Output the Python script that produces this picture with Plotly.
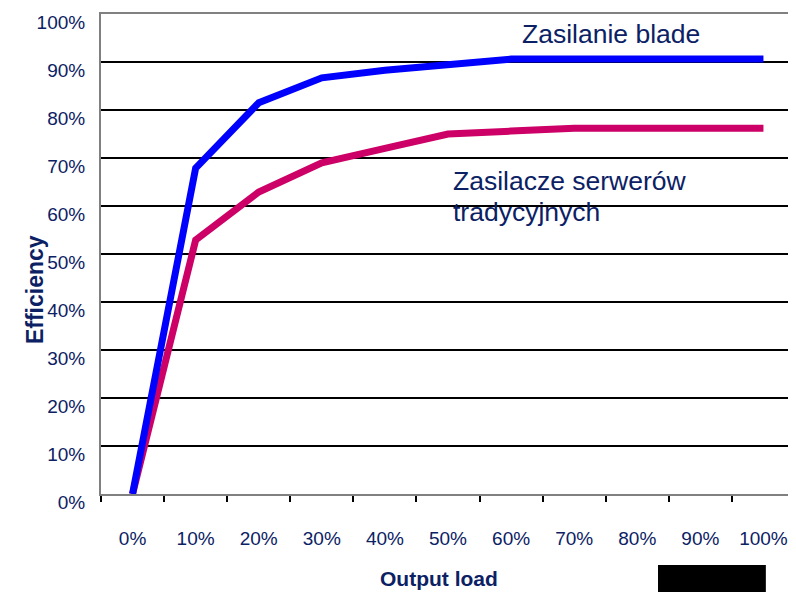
import plotly.graph_objects as go

loads = ["0%", "10%", "20%", "30%", "40%", "50%", "60%", "70%", "80%", "90%", "100%"]
blade = [0.0, 0.679, 0.815, 0.867, 0.883, 0.894, 0.906, 0.906, 0.906, 0.906, 0.906]
traditional = [0.0, 0.529, 0.629, 0.69, 0.72, 0.75, 0.756, 0.762, 0.762, 0.762, 0.762]
eff_ticks = [0.0, 0.1, 0.2, 0.3, 0.4, 0.5, 0.6, 0.7, 0.8, 0.9, 1.0]
eff_labels = ["0%", "10%", "20%", "30%", "40%", "50%", "60%", "70%", "80%", "90%", "100%"]

NAVY = "#0b2164"
FONT = "Liberation Sans, Arial, sans-serif"

fig = go.Figure()
fig.add_trace(go.Scatter(x=loads, y=traditional, mode="lines",
                         line=dict(color="#cc0066", width=7), showlegend=False))
fig.add_trace(go.Scatter(x=loads, y=blade, mode="lines",
                         line=dict(color="#0000ff", width=7), showlegend=False))

fig.update_layout(
    width=788, height=584,
    margin=dict(l=93, r=1, t=6, b=98),
    paper_bgcolor="white", plot_bgcolor="white",
    font=dict(family=FONT, color=NAVY, size=19),
    xaxis=dict(
        type="category", tickson="boundaries", range=[-0.5, 10.5], automargin=False,
        showline=True, linecolor="#808080", linewidth=2, mirror=True,
        ticks="outside", ticklen=6, tickwidth=2, tickcolor="black",
        showgrid=False, ticklabelstandoff=26,
        tickfont=dict(size=19, color=NAVY),
    ),
    yaxis=dict(
        range=[0, 1], tickmode="array", tickvals=eff_ticks, ticktext=eff_labels,
        automargin=False, ticklabeloverflow="allow",
        showline=True, linecolor="#808080", linewidth=2, mirror=True,
        showgrid=True, gridcolor="black", gridwidth=2, zeroline=False,
        ticks="", ticklabelstandoff=10, ticklabelshift=8,
        tickfont=dict(size=19, color=NAVY),
    ),
    annotations=[
        dict(text="Zasilanie blade", xref="paper", yref="paper", x=0.6037, y=0.958,
             xanchor="left", yanchor="middle", showarrow=False,
             font=dict(size=26.5, color=NAVY, family=FONT)),
        dict(text="Zasilacze serwerów", xref="paper", yref="paper", x=0.504, y=0.652,
             xanchor="left", yanchor="middle", showarrow=False,
             font=dict(size=26.5, color=NAVY, family=FONT)),
        dict(text="tradycyjnych", xref="paper", yref="paper", x=0.504, y=0.587,
             xanchor="left", yanchor="middle", showarrow=False,
             font=dict(size=26.5, color=NAVY, family=FONT)),
        dict(text="<b>Output load</b>", xref="paper", yref="paper", x=0.4875, y=-0.175,
             xanchor="center", yanchor="middle", showarrow=False,
             font=dict(size=21, color=NAVY, family=FONT)),
        dict(text="<b>Efficiency</b>", xref="paper", yref="paper", x=-0.095, y=0.425,
             xanchor="center", yanchor="middle", showarrow=False, textangle=-90,
             font=dict(size=23, color=NAVY, family=FONT)),
    ],
    shapes=[
        dict(type="rect", xref="paper", yref="paper", x0=0.8026, x1=0.958, y0=-0.21, y1=-0.148,
             fillcolor="black", line=dict(width=0), layer="above"),
    ],
)

fig.write_html("out.html")
